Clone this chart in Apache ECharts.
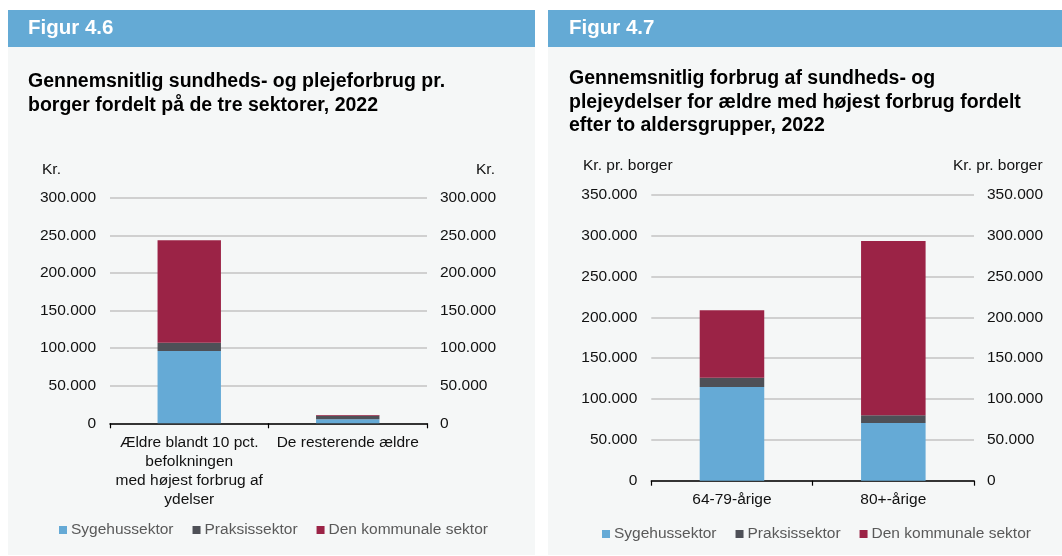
<!DOCTYPE html>
<html>
<head>
<meta charset="utf-8">
<script src="https://cdn.jsdelivr.net/npm/echarts@6/dist/echarts.min.js"></script>
<style>
html,body{margin:0;padding:0;background:#fff;}
#c{width:1062px;height:556px;}
</style>
</head>
<body>
<div id="c"></div>
<script>
// ---- Data ----
const seriesNames = ['Sygehussektor', 'Praksissektor', 'Den kommunale sektor'];

const cats46 = ['Ældre blandt 10 pct.\nbefolkningen\nmed højest forbrug af\nydelser', 'De resterende ældre'];
const syg46 = [96000, 5300];
const prak46 = [11000, 4800];
const kom46 = [136500, 900];

const cats47 = ['64-79-årige', '80+-årige'];
const syg47 = [114700, 70600];
const prak47 = [11300, 9400];
const kom47 = [82500, 213300];

const yMax46 = 300000;
const yMax47 = 350000;
const yStep = 50000;

// ---- Styling ----
const FONT = '"Liberation Sans", Arial, sans-serif';
const colors = ['#65aad6', '#4e5057', '#9b2346'];
const headerColor = '#64aad5';
const panelBg = '#f5f7f7';
const FS = 15.5;

function fmt(v) {
  return String(v).replace(/\B(?=(\d{3})+(?!\d))/g, '.');
}

const chart = echarts.init(document.getElementById('c'), null, {renderer: 'canvas'});

function yAxisDef(gridIndex, max, pos) {
  return {
    type: 'value', gridIndex: gridIndex, position: pos,
    min: 0, max: max, interval: yStep,
    axisLine: {show: false}, axisTick: {show: false},
    splitLine: {show: pos === 'left', lineStyle: {color: '#c3c3c3', width: 1.5}},
    axisLabel: {
      formatter: fmt, color: '#111', fontFamily: FONT, fontSize: FS,
      margin: pos === 'left' ? 14 : 13
    }
  };
}

function xAxisDef(gridIndex, cats, margin) {
  return {
    type: 'category', gridIndex: gridIndex, data: cats,
    axisLine: {lineStyle: {color: '#000', width: 1.5}},
    axisTick: {show: true, length: 5, lineStyle: {color: '#000', width: 1.2}},
    axisLabel: {color: '#111', fontFamily: FONT, fontSize: FS, lineHeight: 19, margin: margin, interval: 0}
  };
}

function barSeries(name, data, xi, yi, stack, color) {
  return {
    name: name, type: 'bar', stack: stack, data: data,
    xAxisIndex: xi, yAxisIndex: yi,
    barCategoryGap: '60%',
    itemStyle: {color: color},
    emphasis: {disabled: true}
  };
}

const legendCommon = {
  icon: 'rect', itemWidth: 8, itemHeight: 8, itemGap: 19, padding: 0,
  textStyle: {color: '#595959', fontFamily: FONT, fontSize: FS, padding: [0, 0, 0, -1]},
  data: seriesNames
};

const option = {
  animation: false,
  backgroundColor: '#ffffff',
  color: colors,
  graphic: [
    {type: 'rect', shape: {x: 8, y: 10, width: 527, height: 37}, style: {fill: headerColor}, z: -10},
    {type: 'rect', shape: {x: 8, y: 47, width: 527, height: 508}, style: {fill: panelBg}, z: -10},
    {type: 'rect', shape: {x: 548, y: 10, width: 514, height: 37}, style: {fill: headerColor}, z: -10},
    {type: 'rect', shape: {x: 548, y: 47, width: 514, height: 508}, style: {fill: panelBg}, z: -10},
    {type: 'text', left: 28, top: 18, style: {text: 'Figur 4.6', fill: '#fff', font: 'bold 20.5px ' + FONT}},
    {type: 'text', left: 569, top: 18, style: {text: 'Figur 4.7', fill: '#fff', font: 'bold 20.5px ' + FONT}},
    {type: 'text', left: 42, top: 162, style: {text: 'Kr.', fill: '#111', font: FS + 'px ' + FONT}},
    {type: 'text', left: 476, top: 162, style: {text: 'Kr.', fill: '#111', font: FS + 'px ' + FONT}},
    {type: 'text', left: 583, top: 158, style: {text: 'Kr. pr. borger', fill: '#111', font: FS + 'px ' + FONT}},
    {type: 'text', left: 953, top: 158, style: {text: 'Kr. pr. borger', fill: '#111', font: FS + 'px ' + FONT}}
  ],
  title: [
    {text: 'Gennemsnitlig sundheds- og plejeforbrug pr.\nborger fordelt på de tre sektorer, 2022',
     left: 28, top: 70, padding: 0,
     textStyle: {fontFamily: FONT, fontSize: 19.5, fontWeight: 'bold', color: '#000', lineHeight: 24}},
    {text: 'Gennemsnitlig forbrug af sundheds- og\nplejeydelser for ældre med højest forbrug fordelt\nefter to aldersgrupper, 2022',
     left: 569, top: 67, padding: 0,
     textStyle: {fontFamily: FONT, fontSize: 19.5, fontWeight: 'bold', color: '#000', lineHeight: 23.5}}
  ],
  legend: [
    Object.assign({left: 59, top: 522}, legendCommon),
    Object.assign({left: 602, top: 526}, legendCommon)
  ],
  grid: [
    {left: 110, right: 635, top: 197.7, bottom: 132.7},
    {left: 651.3, right: 88, top: 194.7, bottom: 75.3}
  ],
  xAxis: [
    xAxisDef(0, cats46, 10),
    xAxisDef(1, cats47, 10)
  ],
  yAxis: [
    yAxisDef(0, yMax46, 'left'),
    yAxisDef(0, yMax46, 'right'),
    yAxisDef(1, yMax47, 'left'),
    yAxisDef(1, yMax47, 'right')
  ],
  series: [
    barSeries(seriesNames[0], syg46, 0, 0, 'a', colors[0]),
    barSeries(seriesNames[1], prak46, 0, 0, 'a', colors[1]),
    barSeries(seriesNames[2], kom46, 0, 0, 'a', colors[2]),
    barSeries(seriesNames[0], syg47, 1, 2, 'b', colors[0]),
    barSeries(seriesNames[1], prak47, 1, 2, 'b', colors[1]),
    barSeries(seriesNames[2], kom47, 1, 2, 'b', colors[2])
  ]
};

chart.setOption(option);
</script>
</body>
</html>
